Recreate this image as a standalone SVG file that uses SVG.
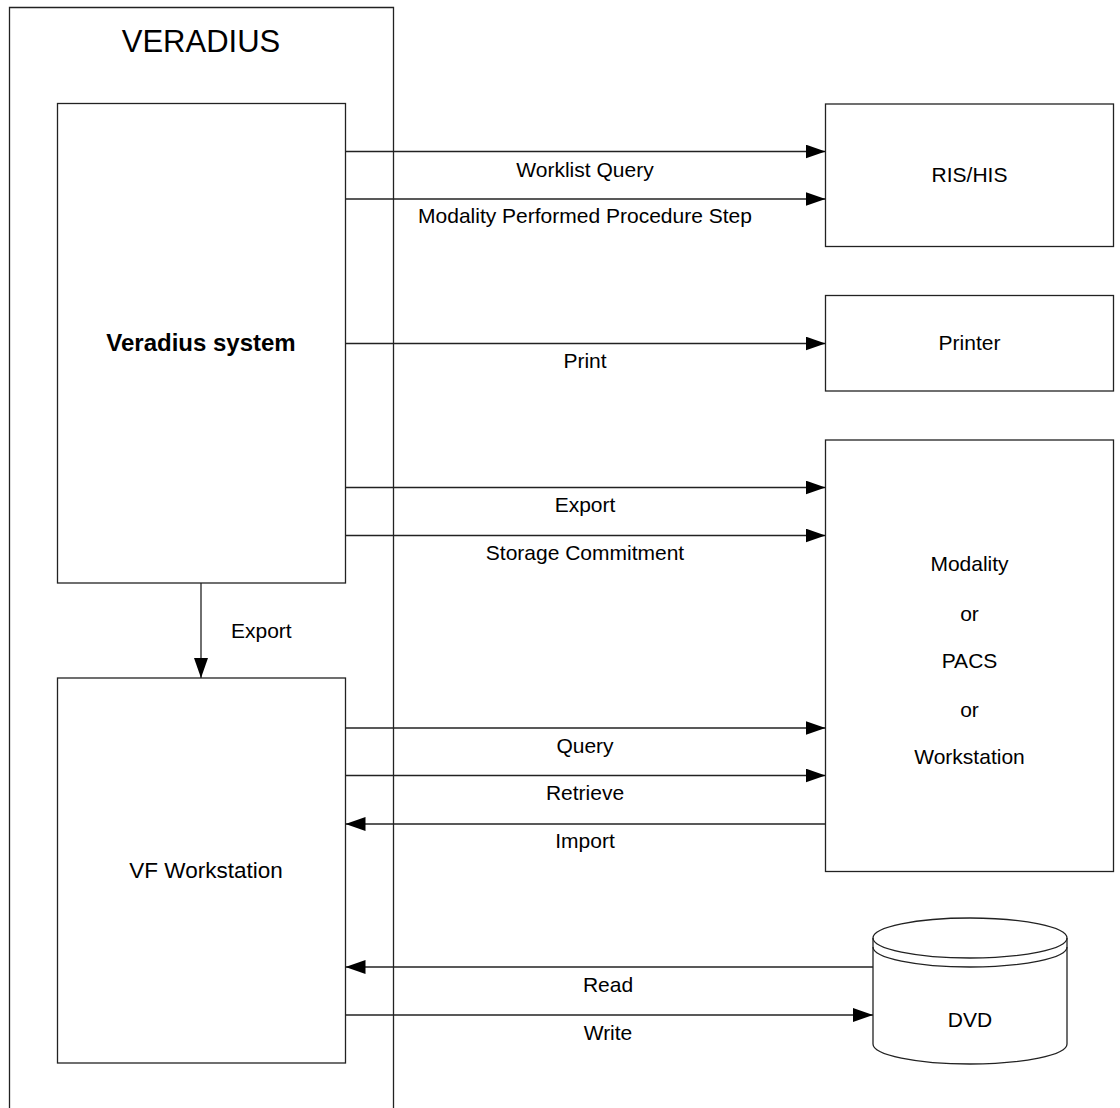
<svg xmlns="http://www.w3.org/2000/svg" width="1120" height="1108" viewBox="0 0 1120 1108">
<style>
.box{fill:#fff;stroke:#222;stroke-width:1.3}
.ln{fill:none;stroke:#222;stroke-width:1.3}
text{font-family:"Liberation Sans",Arial,sans-serif;fill:#000;text-anchor:middle}
.lbl{font-size:21px}
</style>
<defs>
<marker id="ah" markerUnits="userSpaceOnUse" markerWidth="22" markerHeight="16" refX="20" refY="7" orient="auto">
<path d="M0,0 L20,7 L0,14 Z" fill="#000"/>
</marker>
</defs>
<rect width="1120" height="1108" fill="#fff"/>
<g id="veradius-frame">
<path class="ln" d="M9.5,1108 V7.5 H393.5 V1108"/>
<text x="201" y="52" style="font-size:31px">VERADIUS</text>
</g>
<g id="veradius-system">
<rect class="box" x="57.5" y="103.5" width="288" height="479.5"/>
<text x="201" y="351" style="font-size:24px;font-weight:bold">Veradius system</text>
</g>
<g id="vf-workstation">
<rect class="box" x="57.5" y="678" width="288" height="385"/>
<text x="206" y="878" style="font-size:22.5px">VF Workstation</text>
</g>
<g id="ris-his">
<rect class="box" x="825.5" y="104" width="288" height="142.5"/>
<text class="lbl" x="969.5" y="182">RIS/HIS</text>
</g>
<g id="printer">
<rect class="box" x="825.5" y="295.5" width="288" height="95.5"/>
<text class="lbl" x="969.5" y="350">Printer</text>
</g>
<g id="modality">
<rect class="box" x="825.5" y="440" width="288" height="431.5"/>
<text class="lbl" x="969.5" y="571">Modality</text>
<text class="lbl" x="969.5" y="621">or</text>
<text class="lbl" x="969.5" y="668">PACS</text>
<text class="lbl" x="969.5" y="717">or</text>
<text class="lbl" x="969.5" y="764">Workstation</text>
</g>
<g id="dvd">
<path class="box" d="M873,938 V1044 A97,20 0 0 0 1067,1044 V938 A97,20 0 0 0 873,938 Z"/>
<path class="ln" d="M873,938 A97,20 0 0 0 1067,938"/>
<path class="ln" d="M873,947 A97,20 0 0 0 1067,947"/>
<text x="970" y="1027" style="font-size:21px">DVD</text>
</g>
<g id="connectors">
<line class="ln" x1="345.5" y1="151.5" x2="825.5" y2="151.5" marker-end="url(#ah)"/>
<line class="ln" x1="345.5" y1="199" x2="825.5" y2="199" marker-end="url(#ah)"/>
<line class="ln" x1="345.5" y1="343.5" x2="825.5" y2="343.5" marker-end="url(#ah)"/>
<line class="ln" x1="345.5" y1="487.5" x2="825.5" y2="487.5" marker-end="url(#ah)"/>
<line class="ln" x1="345.5" y1="535.5" x2="825.5" y2="535.5" marker-end="url(#ah)"/>
<line class="ln" x1="201" y1="583" x2="201" y2="678" marker-end="url(#ah)"/>
<line class="ln" x1="345.5" y1="728" x2="825.5" y2="728" marker-end="url(#ah)"/>
<line class="ln" x1="345.5" y1="775.5" x2="825.5" y2="775.5" marker-end="url(#ah)"/>
<line class="ln" x1="825.5" y1="824" x2="345.5" y2="824" marker-end="url(#ah)"/>
<line class="ln" x1="873" y1="967" x2="345.5" y2="967" marker-end="url(#ah)"/>
<line class="ln" x1="345.5" y1="1015" x2="873" y2="1015" marker-end="url(#ah)"/>
<text class="lbl" x="585" y="177">Worklist Query</text>
<text class="lbl" x="585" y="223">Modality Performed Procedure Step</text>
<text class="lbl" x="585" y="368">Print</text>
<text class="lbl" x="585" y="512">Export</text>
<text class="lbl" x="585" y="560">Storage Commitment</text>
<text class="lbl" x="231" y="638" style="text-anchor:start">Export</text>
<text class="lbl" x="585" y="753">Query</text>
<text class="lbl" x="585" y="800">Retrieve</text>
<text class="lbl" x="585" y="848">Import</text>
<text class="lbl" x="608" y="992">Read</text>
<text class="lbl" x="608" y="1040">Write</text>
</g>
</svg>
